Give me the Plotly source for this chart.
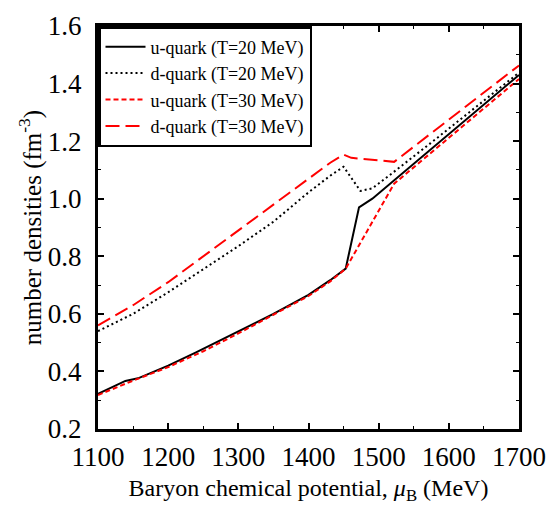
import plotly.graph_objects as go

# u-quark T=20 MeV
u20_x = [1100, 1120, 1139, 1157, 1200, 1239, 1300, 1350, 1400, 1431, 1453, 1472, 1491, 1600, 1700]
u20_y = [0.322, 0.345, 0.367, 0.376, 0.42, 0.465, 0.538, 0.600, 0.666, 0.717, 0.757, 0.970, 1.000, 1.225, 1.430]
# d-quark T=20 MeV
d20_x = [1100, 1150, 1200, 1250, 1300, 1350, 1400, 1431, 1450, 1474, 1491, 1520, 1574, 1700]
d20_y = [0.540, 0.600, 0.675, 0.755, 0.835, 0.920, 1.022, 1.080, 1.111, 1.027, 1.036, 1.090, 1.193, 1.438]
# u-quark T=30 MeV
u30_x = [1100, 1150, 1200, 1250, 1300, 1350, 1400, 1431, 1453, 1522, 1700]
u30_y = [0.318, 0.368, 0.415, 0.470, 0.532, 0.596, 0.662, 0.713, 0.757, 1.052, 1.416]
# d-quark T=30 MeV
d30_x = [1100, 1150, 1200, 1250, 1300, 1350, 1400, 1431, 1450, 1461, 1522, 1700]
d30_y = [0.560, 0.630, 0.710, 0.800, 0.890, 0.980, 1.070, 1.125, 1.153, 1.142, 1.128, 1.463]

x_ticks = [1100, 1200, 1300, 1400, 1500, 1600, 1700]
y_ticks = [0.2, 0.4, 0.6, 0.8, 1.0, 1.2, 1.4, 1.6]

FONT = "Liberation Serif"

fig = go.Figure()
fig.add_trace(go.Scatter(x=u20_x, y=u20_y, mode="lines", name="u-quark (T=20 MeV)",
                         line=dict(color="black", width=2)))
fig.add_trace(go.Scatter(x=d20_x, y=d20_y, mode="lines", name="d-quark (T=20 MeV)",
                         line=dict(color="black", width=2, dash="2px,3px")))
fig.add_trace(go.Scatter(x=u30_x, y=u30_y, mode="lines", name="u-quark (T=30 MeV)",
                         line=dict(color="red", width=2, dash="5px,3px")))
fig.add_trace(go.Scatter(x=d30_x, y=d30_y, mode="lines", name="d-quark (T=30 MeV)",
                         line=dict(color="red", width=2, dash="14px,6px")))

axis_common = dict(
    showline=True, linecolor="black", linewidth=3, mirror="ticks",
    ticks="inside", ticklen=6, tickwidth=2, tickcolor="black",
    showgrid=False, zeroline=False,
    ticklabeloverflow="allow",
    tickfont=dict(family=FONT, size=27, color="black"),
)

fig.update_xaxes(range=[1100, 1700], tickvals=x_ticks,
                 minor=dict(ticks="inside", ticklen=3, tickwidth=1, dtick=50, tickcolor="black", showgrid=False),
                 title=dict(text="Baryon chemical potential, <i>μ</i><sub>B</sub> (MeV)",
                            font=dict(family=FONT, size=24, color="black"), standoff=8),
                 ticklabelstandoff=2,
                 **axis_common)
fig.update_yaxes(range=[0.2, 1.6], tickvals=y_ticks, tickformat=".1f",
                 minor=dict(ticks="inside", ticklen=3, tickwidth=1, dtick=0.1, tickcolor="black", showgrid=False),
                 title=dict(text="number densities (fm<sup>-3</sup>)",
                            font=dict(family=FONT, size=25, color="black"), standoff=0),
                 ticklabelstandoff=8,
                 **axis_common)

fig.update_layout(
    width=559, height=510,
    margin=dict(l=98, r=40, t=11, b=81),
    paper_bgcolor="white", plot_bgcolor="white",
    showlegend=True,
    legend=dict(x=0, y=1, xanchor="left", yanchor="top",
                bgcolor="white", bordercolor="black", borderwidth=2.5,
                font=dict(family=FONT, size=18, color="black"),
                tracegroupgap=0, itemwidth=40),
)

fig.write_html("out.html")
